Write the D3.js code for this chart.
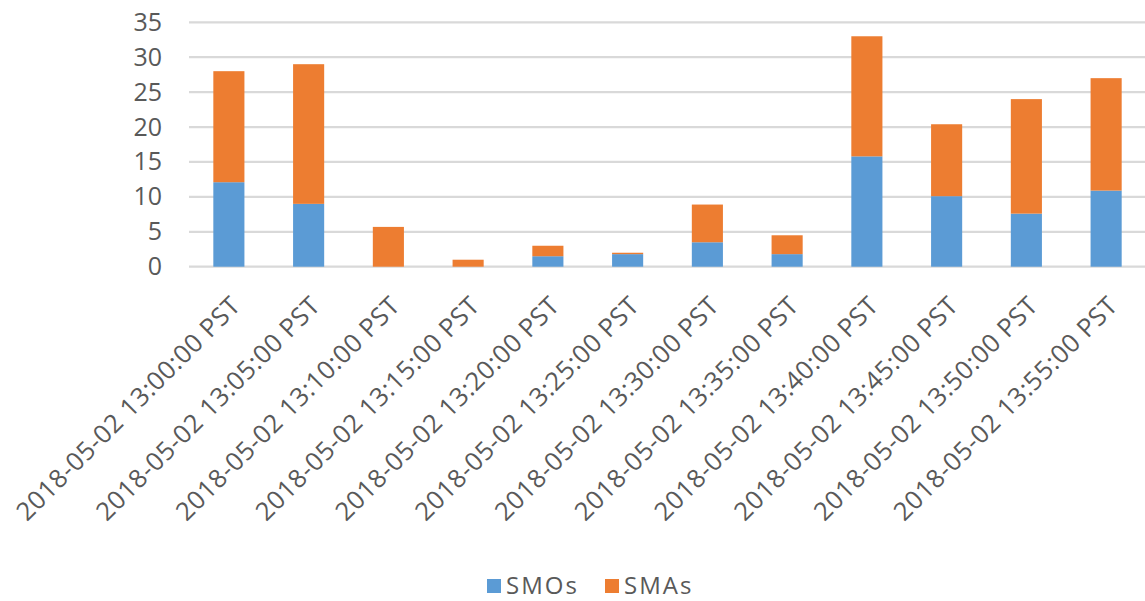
<!DOCTYPE html>
<html><head><meta charset="utf-8">
<script src="https://cdn.jsdelivr.net/npm/d3@7"></script>
<style>
html,body{margin:0;padding:0;background:#fff;}
svg{display:block;}
text{font-family:"Open Sans",sans-serif;fill:#595959;}
</style></head>
<body><svg id="c" width="1145" height="601"></svg>
<script>
const categories = ["2018-05-02 13:00:00 PST","2018-05-02 13:05:00 PST","2018-05-02 13:10:00 PST","2018-05-02 13:15:00 PST","2018-05-02 13:20:00 PST","2018-05-02 13:25:00 PST","2018-05-02 13:30:00 PST","2018-05-02 13:35:00 PST","2018-05-02 13:40:00 PST","2018-05-02 13:45:00 PST","2018-05-02 13:50:00 PST","2018-05-02 13:55:00 PST"];
const smos = [12.1, 9, 0, 0, 1.5, 1.8, 3.5, 1.8, 15.8, 10.1, 7.6, 10.9];
const smas = [15.9, 20, 5.7, 1, 1.5, 0.2, 5.4, 2.7, 17.2, 10.3, 16.4, 16.1];
const seriesNames = ["SMOs", "SMAs"];
const seriesColors = ["#5b9bd5", "#ed7d31"];
const yTicks = [0, 5, 10, 15, 20, 25, 30, 35];

const svg = d3.select("#c");
const x = d3.scaleBand().domain(categories).range([189, 1146]).paddingInner(0.61).paddingOuter(0.305);
const y = d3.scaleLinear().domain([0, 35]).range([266.7, 22.3]);

// gridlines
svg.append("g").selectAll("line").data(yTicks).join("line")
  .attr("x1", 189).attr("x2", 1146)
  .attr("y1", d => y(d)).attr("y2", d => y(d))
  .attr("stroke", "#d9d9d9").attr("stroke-width", 2.3);

// y axis labels
const yAxis = d3.axisLeft(y).tickValues(yTicks).tickSize(0).tickPadding(0);
const ga = svg.append("g").attr("transform", "translate(162,0)").call(yAxis);
ga.select(".domain").remove();
ga.selectAll("text").attr("font-size", 25).attr("fill", "#595959").attr("font-family", "Open Sans");

// stacked bars
const table = categories.map((c, i) => ({cat: c, SMOs: smos[i], SMAs: smas[i]}));
const stack = d3.stack().keys(seriesNames)(table);
svg.append("g").selectAll("g").data(stack).join("g")
  .attr("fill", (d, i) => seriesColors[i])
  .selectAll("rect").data(d => d).join("rect")
  .attr("x", d => x(d.data.cat))
  .attr("width", x.bandwidth())
  .attr("y", d => y(d[1]))
  .attr("height", d => Math.max(0, y(d[0]) - y(d[1])));

// x labels
const xAxis = d3.axisBottom(x).tickSize(0).tickPadding(0);
const gx = svg.append("g").attr("transform", "translate(0,266.7)").call(xAxis);
gx.select(".domain").remove();
gx.selectAll("text")
  .attr("font-size", 25.5).attr("fill", "#595959").attr("font-family", "Open Sans")
  .attr("letter-spacing", 0.6)
  .attr("text-anchor", "end")
  .attr("dy", "0.35em")
  .attr("transform", "translate(7,34) rotate(-45)")
  .attr("y", 0);

// legend
const legend = svg.append("g");
const lx = [487, 605];
seriesNames.forEach((n, i) => {
  legend.append("rect").attr("x", lx[i]).attr("y", 579).attr("width", 14).attr("height", 14).attr("fill", seriesColors[i]);
  legend.append("text").attr("x", lx[i] + 19).attr("y", 594).attr("font-size", 24)
    .attr("letter-spacing", 2).text(n);
});
</script></body></html>
